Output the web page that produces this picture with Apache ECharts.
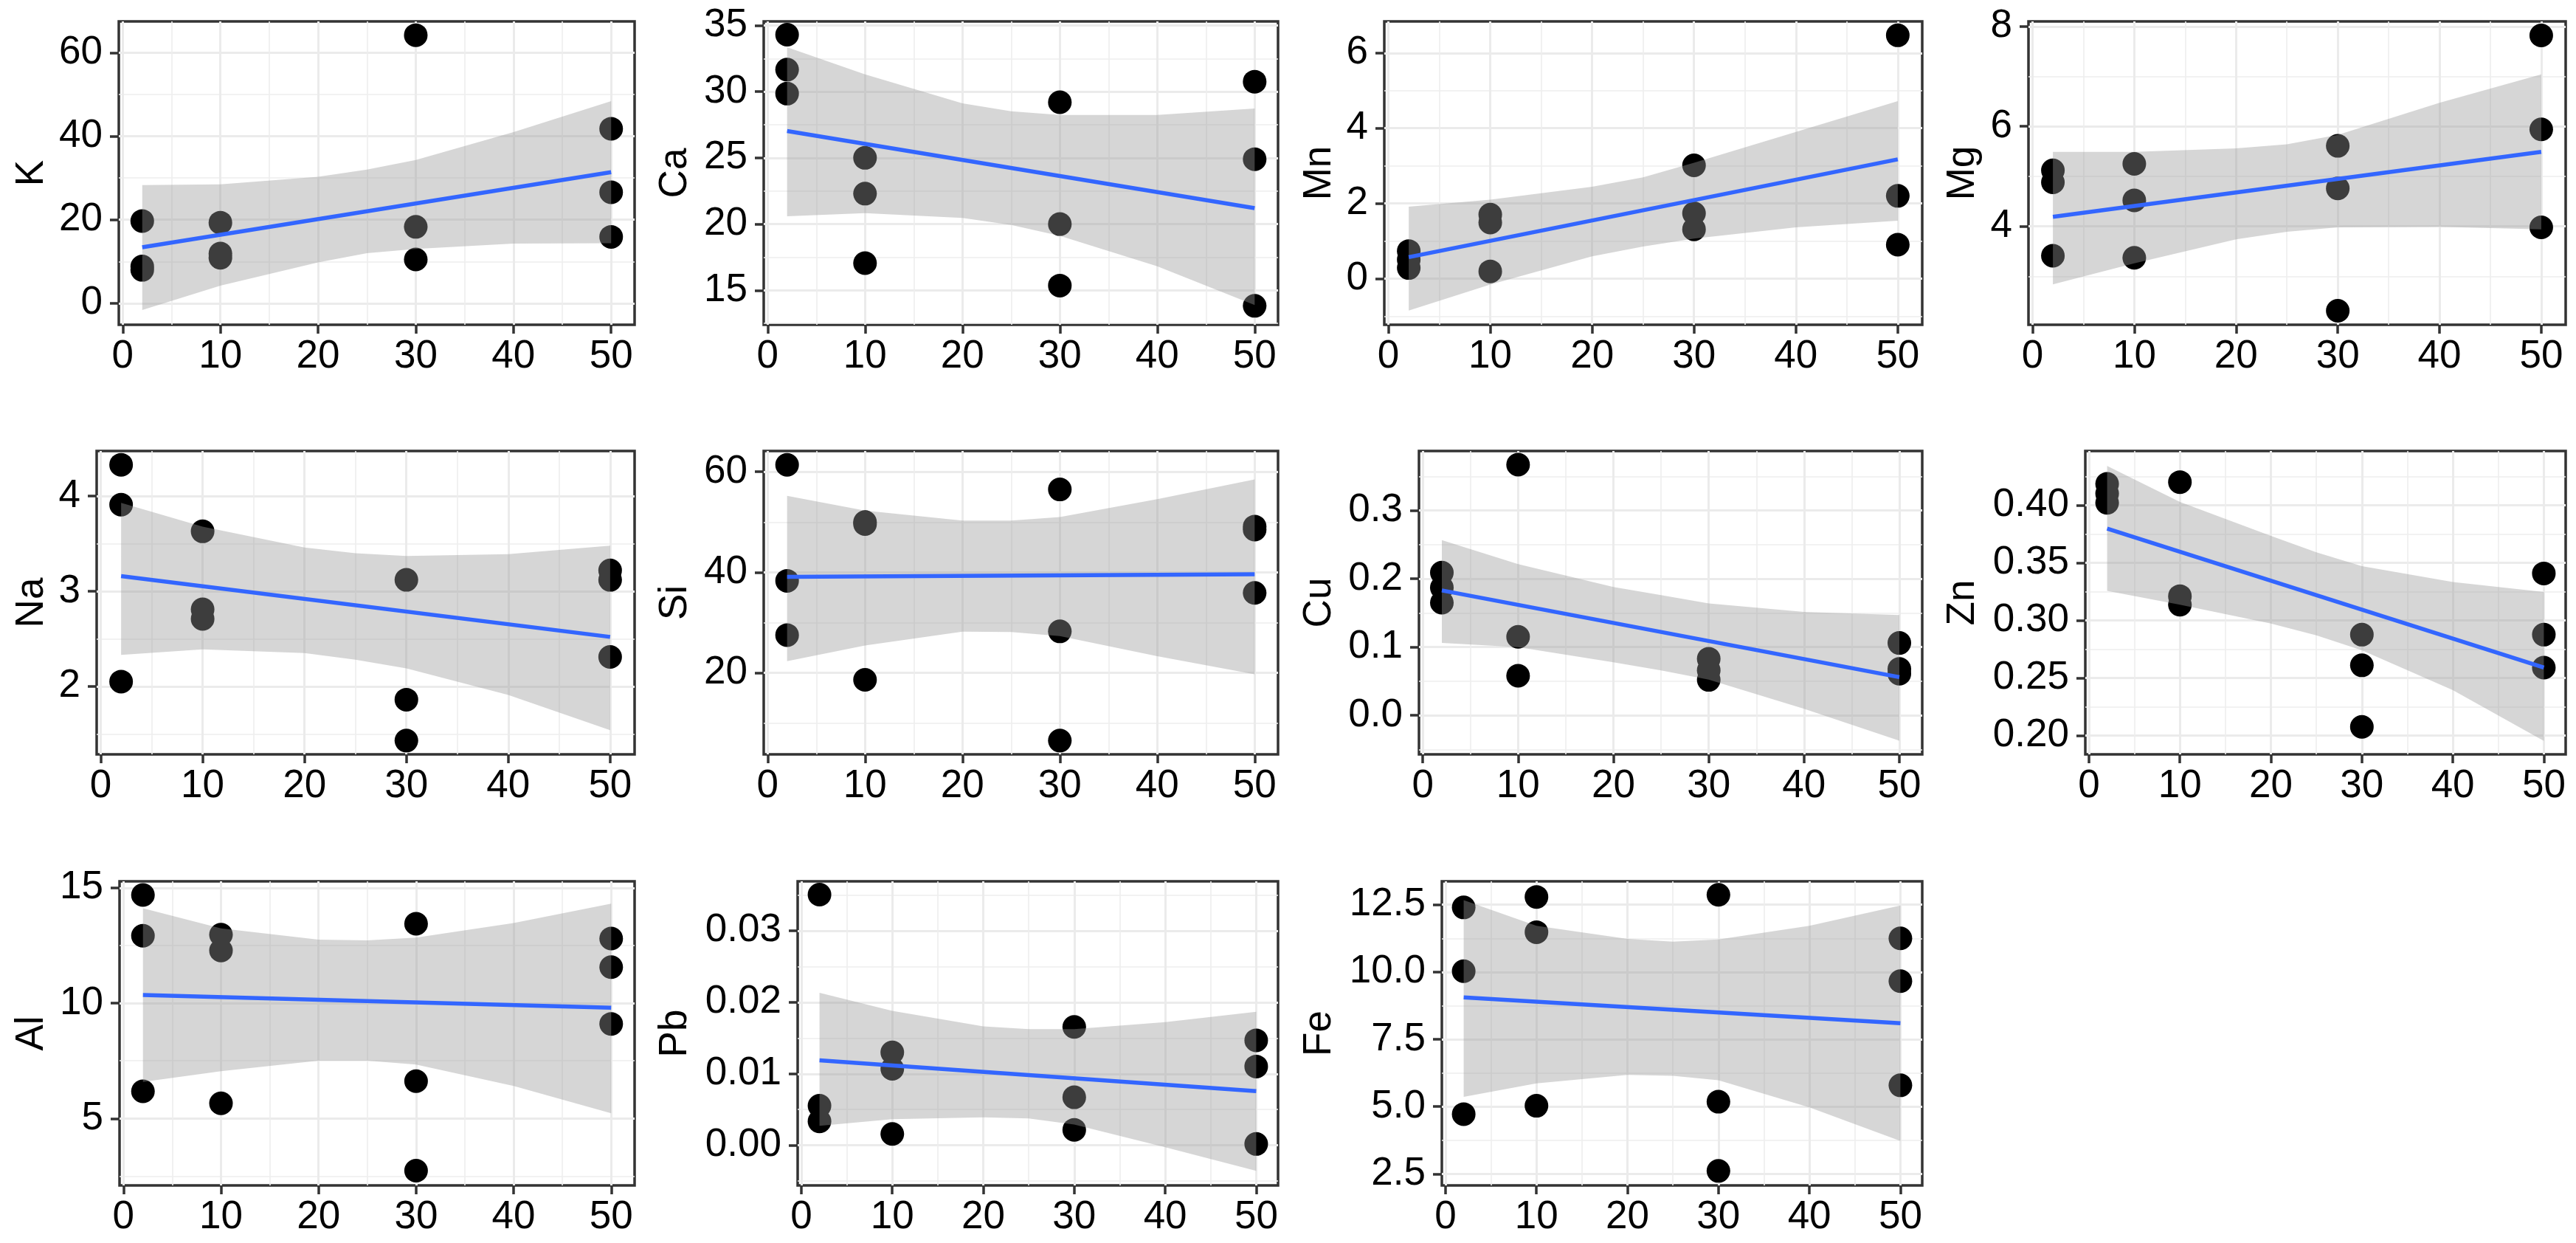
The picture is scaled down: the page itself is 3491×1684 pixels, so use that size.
<!DOCTYPE html>
<html><head><meta charset="utf-8">
<script src="https://cdn.jsdelivr.net/npm/echarts@6/dist/echarts.min.js"></script>
<style>html,body{margin:0;padding:0;background:#fff;}#c{width:3491px;height:1684px;}</style>
</head><body><div id="c"></div>
<script>
// ---------- data ----------
const DOSE = [2,2,2,10,10,10,30,30,30,50,50,50];
const FIT_X = [2, 50];
const RIBBON_X = [2, 10, 20, 25, 30, 40, 50];
const X_TICKS = [0, 10, 20, 30, 40, 50];
const X_MINOR = [5, 15, 25, 35, 45];

const K = [19.7, 8.8, 8.0, 19.3, 11.9, 10.9, 64.2, 18.3, 10.5, 41.8, 26.6, 15.9];
const K_FIT = [13.4, 31.4];
const K_UPPER = [28.3, 28.5, 30.3, 32.0, 34.3, 41.0, 48.4];
const K_LOWER = [-1.6, 4.2, 9.8, 12.0, 13.0, 14.3, 14.4];
const K_TICKS = [0, 20, 40, 60];

const CA = [34.3, 31.66, 29.85, 25.0, 22.3, 17.05, 29.2, 20.0, 15.36, 30.75, 24.9, 13.83];
const CA_FIT = [27.03, 21.2];
const CA_UPPER = [33.35, 31.3, 29.12, 28.52, 28.24, 28.24, 28.72];
const CA_LOWER = [20.59, 20.83, 20.47, 19.93, 19.12, 16.81, 13.89];
const CA_TICKS = [15, 20, 25, 30, 35];

const MN = [0.73, 0.5, 0.28, 1.70, 1.49, 0.19, 3.01, 1.735, 1.31, 6.47, 2.2, 0.9];
const MN_FIT = [0.57, 3.17];
const MN_UPPER = [1.91, 2.10, 2.44, 2.69, 3.08, 3.90, 4.72];
const MN_LOWER = [-0.85, -0.16, 0.59, 0.85, 1.06, 1.36, 1.54];
const MN_TICKS = [0, 2, 4, 6];

const MG = [5.12, 4.88, 3.41, 5.25, 4.52, 3.37, 5.61, 4.76, 2.31, 7.82, 5.94, 3.98];
const MG_FIT = [4.19, 5.49];
const MG_UPPER = [5.49, 5.49, 5.56, 5.64, 5.83, 6.47, 7.04];
const MG_LOWER = [2.84, 3.26, 3.74, 3.89, 3.98, 3.99, 3.94];
const MG_TICKS = [4, 6, 8];

const NA = [4.33, 3.91, 2.05, 3.63, 2.81, 2.71, 3.12, 1.86, 1.43, 3.22, 3.12, 2.31];
const NA_FIT = [3.16, 2.52];
const NA_UPPER = [3.93, 3.68, 3.46, 3.40, 3.37, 3.39, 3.48];
const NA_LOWER = [2.33, 2.39, 2.35, 2.28, 2.19, 1.91, 1.54];
const NA_TICKS = [2, 3, 4];

const SI = [61.4, 38.3, 27.5, 50.0, 49.6, 18.6, 56.5, 28.25, 6.5, 49.1, 48.5, 35.9];
const SI_FIT = [39.1, 39.6];
const SI_UPPER = [55.24, 52.3, 50.3, 50.3, 51.0, 54.55, 58.5];
const SI_LOWER = [22.3, 25.45, 28.2, 28.1, 27.3, 23.3, 19.7];
const SI_TICKS = [20, 40, 60];

const CU = [0.209, 0.187, 0.165, 0.367, 0.115, 0.058, 0.083, 0.066, 0.052, 0.106, 0.068, 0.061];
const CU_FIT = [0.183, 0.056];
const CU_UPPER = [0.2565, 0.2215, 0.188, 0.176, 0.164, 0.1516, 0.147];
const CU_LOWER = [0.106, 0.0999, 0.0777, 0.066, 0.0525, 0.0097, -0.037];
const CU_TICKS = [0, 0.1, 0.2, 0.3];

const ZN = [0.4185, 0.41, 0.402, 0.420, 0.321, 0.3136, 0.2876, 0.261, 0.2076, 0.3407, 0.2876, 0.259];
const ZN_FIT = [0.3796, 0.259];
const ZN_UPPER = [0.434, 0.4028, 0.3733, 0.359, 0.347, 0.3333, 0.3247];
const ZN_LOWER = [0.3256, 0.3136, 0.2973, 0.287, 0.274, 0.2394, 0.1954];
const ZN_TICKS = [0.20, 0.25, 0.30, 0.35, 0.40];

const AL = [14.69, 12.92, 6.18, 12.97, 12.28, 5.66, 13.44, 6.62, 2.74, 12.8, 11.56, 9.1];
const AL_FIT = [10.35, 9.80];
const AL_UPPER = [14.11, 13.24, 12.75, 12.72, 12.84, 13.47, 14.31];
const AL_LOWER = [6.59, 7.05, 7.51, 7.51, 7.34, 6.41, 5.23];
const AL_TICKS = [5, 10, 15];

const PB = [0.03504, 0.00553, 0.00336, 0.0130, 0.0107, 0.0016, 0.01655, 0.00672, 0.00217, 0.01468, 0.01102, 0.00019];
const PB_FIT = [0.01188, 0.00758];
const PB_UPPER = [0.02133, 0.01879, 0.01662, 0.01625, 0.01625, 0.01722, 0.01868];
const PB_LOWER = [0.00273, 0.00366, 0.00392, 0.00377, 0.00291, -0.00026, -0.00355];
const PB_TICKS = [0, 0.01, 0.02, 0.03];

const FE = [12.4, 10.03, 4.72, 12.79, 11.48, 5.03, 12.87, 5.18, 2.61, 11.25, 9.66, 5.79];
const FE_FIT = [9.06, 8.10];
const FE_UPPER = [12.67, 11.72, 11.23, 11.13, 11.21, 11.72, 12.47];
const FE_LOWER = [5.36, 5.86, 6.18, 6.14, 5.98, 4.97, 3.72];
const FE_TICKS = [2.5, 5, 7.5, 10, 12.5];

const PANELS = [
  {name:'K',  y:K,  fit:K_FIT,  up:K_UPPER,  lo:K_LOWER,  ticks:K_TICKS,  dec:0, min:-5.15,   max:67.5},
  {name:'Ca', y:CA, fit:CA_FIT, up:CA_UPPER, lo:CA_LOWER, ticks:CA_TICKS, dec:0, min:12.4,    max:35.3},
  {name:'Mn', y:MN, fit:MN_FIT, up:MN_UPPER, lo:MN_LOWER, ticks:MN_TICKS, dec:0, min:-1.23,   max:6.84},
  {name:'Mg', y:MG, fit:MG_FIT, up:MG_UPPER, lo:MG_LOWER, ticks:MG_TICKS, dec:0, min:2.03,    max:8.10},
  {name:'Na', y:NA, fit:NA_FIT, up:NA_UPPER, lo:NA_LOWER, ticks:NA_TICKS, dec:0, min:1.285,   max:4.475},
  {name:'Si', y:SI, fit:SI_FIT, up:SI_UPPER, lo:SI_LOWER, ticks:SI_TICKS, dec:0, min:3.76,    max:64.15},
  {name:'Cu', y:CU, fit:CU_FIT, up:CU_UPPER, lo:CU_LOWER, ticks:CU_TICKS, dec:1, min:-0.057,  max:0.387},
  {name:'Zn', y:ZN, fit:ZN_FIT, up:ZN_UPPER, lo:ZN_LOWER, ticks:ZN_TICKS, dec:2, min:0.1837,  max:0.447},
  {name:'Al', y:AL, fit:AL_FIT, up:AL_UPPER, lo:AL_LOWER, ticks:AL_TICKS, dec:0, min:2.1,     max:15.28},
  {name:'Pb', y:PB, fit:PB_FIT, up:PB_UPPER, lo:PB_LOWER, ticks:PB_TICKS, dec:2, min:-0.0056, max:0.0369},
  {name:'Fe', y:FE, fit:FE_FIT, up:FE_UPPER, lo:FE_LOWER, ticks:FE_TICKS, dec:1, min:2.07,    max:13.37}
];

// ---------- layout (pixels) ----------
const ROW_TOP = [29, 611, 1194];
const ROW_H = [411, 411, 412];
const COL_RIGHT = [860, 1732, 2605, 3477];
const COL_LEFT = [0, 872, 1745, 2617];
const PLOT_LEFT = [161, 1035, 1876, 2749, 131, 1035, 1923, 2826, 162, 1081, 1954];

const FONT = "'Liberation Sans', Arial, sans-serif";
const FS = 53;
const BORDER = '#333333';

function minorsOf(t, lo, hi) {
  const s = t[1] - t[0];
  const m = [t[0] - s / 2];
  for (let i = 0; i < t.length; i++) m.push(t[i] + s / 2);
  return m.filter(v => v > lo && v < hi);
}

const grid = [], xAxis = [], yAxis = [], series = [];
PANELS.forEach((p, i) => {
  const r = Math.floor(i / 4), c = i % 4;
  const left = PLOT_LEFT[i];
  grid.push({left: left, top: ROW_TOP[r], width: COL_RIGHT[c] - left, height: ROW_H[r],
    show: true, borderColor: BORDER, borderWidth: 3.5, backgroundColor: '#fff', z: 0});
  const ax = xAxis.length, ay = yAxis.length;
  xAxis.push({gridIndex: i, type: 'value', min: -0.4, max: 52.4, position: 'bottom',
    axisLine: {show: false, onZero: false},
    axisTick: {show: true, customValues: X_TICKS, length: 12, lineStyle: {color: BORDER, width: 3.5}},
    axisLabel: {show: false, customValues: X_TICKS},
    splitLine: {show: true, lineStyle: {color: '#EBEBEB', width: 3}}});
  xAxis.push({gridIndex: i, type: 'value', min: -0.4, max: 52.4, position: 'top',
    axisLine: {show: false, onZero: false}, axisTick: {show: false, customValues: X_MINOR},
    axisLabel: {show: false, customValues: X_MINOR},
    splitLine: {show: true, lineStyle: {color: '#EEEEEE', width: 1.6}}});
  yAxis.push({gridIndex: i, type: 'value', min: p.min, max: p.max, position: 'left',
    axisLine: {show: false, onZero: false},
    axisTick: {show: true, customValues: p.ticks, length: 12, lineStyle: {color: BORDER, width: 3.5}},
    axisLabel: {show: false, customValues: p.ticks},
    splitLine: {show: true, lineStyle: {color: '#EBEBEB', width: 3}}});
  const ym = minorsOf(p.ticks, p.min, p.max);
  yAxis.push({gridIndex: i, type: 'value', min: p.min, max: p.max, position: 'right',
    axisLine: {show: false, onZero: false}, axisTick: {show: false, customValues: ym},
    axisLabel: {show: false, customValues: ym},
    splitLine: {show: true, lineStyle: {color: '#EEEEEE', width: 1.6}}});

  series.push({type: 'scatter', xAxisIndex: ax, yAxisIndex: ay, silent: true, z: 2,
    symbol: 'circle', symbolSize: 32, itemStyle: {color: '#000', opacity: 1},
    data: DOSE.map((x, k) => [x, p.y[k]])});
  series.push({type: 'custom', xAxisIndex: ax, yAxisIndex: ay, silent: true, z: 3,
    data: [[RIBBON_X[0], p.lo[0]]],
    renderItem: (params, api) => {
      const pts = [];
      for (let k = 0; k < RIBBON_X.length; k++) pts.push(api.coord([RIBBON_X[k], p.up[k]]));
      for (let k = RIBBON_X.length - 1; k >= 0; k--) pts.push(api.coord([RIBBON_X[k], p.lo[k]]));
      return {type: 'polygon', shape: {points: pts}, style: {fill: 'rgba(153,153,153,0.4)'}};
    }});
  series.push({type: 'line', xAxisIndex: ax, yAxisIndex: ay, silent: true, z: 4,
    showSymbol: false, symbol: 'none', lineStyle: {color: '#3366FF', width: 5.5},
    data: FIT_X.map((x, k) => [x, p.fit[k]])});
});

const chart = echarts.init(document.getElementById('c'), null, {renderer: 'canvas'});
chart.setOption({animation: false, backgroundColor: '#fff', grid, xAxis, yAxis, series});

// ---------- text: tick labels and axis titles, placed through the axes ----------
function txt(text, x, y, align, valign, rot) {
  return {type: 'text', x: x, y: y, rotation: rot || 0, silent: true, z: 100,
    style: {text: text, fontSize: FS, fontFamily: FONT, fill: '#000',
      align: align, verticalAlign: valign, textAlign: align, textVerticalAlign: valign}};
}
const G = [];
PANELS.forEach((p, i) => {
  const r = Math.floor(i / 4), c = i % 4;
  const left = PLOT_LEFT[i], top = ROW_TOP[r], bottom = ROW_TOP[r] + ROW_H[r];
  X_TICKS.forEach(v => {
    const px = chart.convertToPixel({xAxisIndex: 2 * i}, v);
    G.push(txt(String(v), px, bottom + 17, 'center', 'top'));
  });
  p.ticks.forEach(v => {
    const py = chart.convertToPixel({yAxisIndex: 2 * i}, v);
    G.push(txt(v.toFixed(p.dec), left - 22, py, 'right', 'middle'));
  });
  G.push(txt(p.name, COL_LEFT[c] + 43, top + ROW_H[r] / 2, 'center', 'middle', Math.PI / 2));
});
chart.setOption({graphic: G});
</script></body></html>
